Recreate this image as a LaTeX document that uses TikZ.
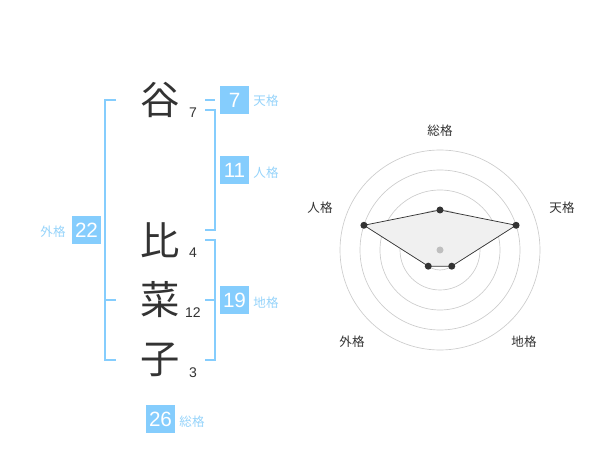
\documentclass[tikz,border=0pt]{standalone}
\usepackage{fontspec}
\setmainfont{Liberation Sans}
\newfontfamily\jpfont{Noto Sans CJK JP}
\usetikzlibrary{positioning,calc}
\definecolor{kakublue}{HTML}{85CDFD}
\definecolor{kakutext}{HTML}{95D3FA}
\definecolor{inkgray}{HTML}{333333}
\definecolor{ringgray}{HTML}{CCCCCC}

\begin{document}
\begin{tikzpicture}[x=0.75pt, y=-0.75pt,
  namechar/.style={font=\jpfont\fontsize{29.5}{29.5}\selectfont, text=inkgray, inner sep=0pt},
  strokenum/.style={font=\fontsize{10.5}{10.5}\selectfont, text=inkgray, inner sep=0pt},
  kakubox/.style={fill=kakublue, text=white, font=\fontsize{15.5}{15.5}\selectfont,
    minimum width=21.75pt, minimum height=21pt, inner sep=0pt},
  kakuname/.style={font=\jpfont\fontsize{9.4}{9.4}\selectfont, text=kakutext, inner sep=0pt},
  bracket/.style={draw=kakublue, line width=1.1pt},
  radarlabel/.style={font=\jpfont\fontsize{9.4}{9.4}\selectfont, text=inkgray, inner sep=0pt}]
\useasboundingbox (0,0) rectangle (600,470);
% x, y are pixels of the 600 x 470 frame, y runs downwards
% the name, one character per cell
\node[namechar] (c1) at (160,100) {谷};
\node[namechar] (c2) at (160,240) {比};
\node[namechar] (c3) at (160,300) {菜};
\node[namechar] (c4) at (160,360) {子};
\foreach \n/\y/\s in {1/113/7, 2/253/4, 3/313/12, 4/373/3} {
  \node[strokenum] (s\n) at (193,\y) {\s};
}
% left bracket, outer
\draw[bracket] (116,100) -- (105,100) -- (105,360) -- (116,360);
\draw[bracket] (105,300) -- (116,300);
% right brackets
\draw[bracket] (205,100) -- (215,100);
\draw[bracket] (205,110) -- (215,110) -- (215,230) -- (205,230);
\draw[bracket] (205,240) -- (215,240) -- (215,360) -- (205,360);
\draw[bracket] (205,300) -- (215,300);
% the five numbers
\node[kakubox] (ten) at (234.5,100) {7};
\node[kakuname] (tenl) at (266,101) {天格};
\node[kakubox] (jin) at (234.5,170) {11};
\node[kakuname] (jinl) at (266,173) {人格};
\node[kakubox] (gai) at (86.5,230) {22};
\node[kakuname] (gail) at (53,232) {外格};
\node[kakubox] (chi) at (234.5,300) {19};
\node[kakuname] (chil) at (266,303) {地格};
\node[kakubox] (sou) at (160.5,419) {26};
\node[kakuname] (soul) at (192,422) {総格};
% radar, centred at (440,250), rings every 20 px
\begin{scope}[shift={(440,250)}, yscale=-1]
  \foreach \r in {20,40,60,80,100} {
    \draw[ringgray, line width=0.5pt] (0,0) circle (\r);
  }
  \coordinate (psou) at (90:40);
  \coordinate (pten) at (18:80);
  \coordinate (pchi) at (-54:20);
  \coordinate (pgai) at (-126:20);
  \coordinate (pjin) at (162:80);
  \filldraw[fill=black!6, draw=inkgray, line width=0.55pt]
    (psou) -- (pten) -- (pchi) -- (pgai) -- (pjin) -- cycle;
  \foreach \p in {psou,pten,pchi,pgai,pjin} {
    \fill[inkgray] (\p) circle (3.5);
  }
  \fill[black!25] (0,0) circle (3.5);
  \node[radarlabel] (lsou) at (0,119) {総格};
  \node[radarlabel] (lten) at (122,42) {天格};
  \node[radarlabel] (lchi) at (84,-92) {地格};
  \node[radarlabel] (lgai) at (-88,-92) {外格};
  \node[radarlabel] (ljin) at (-120,42) {人格};
\end{scope}
\end{tikzpicture}
\end{document}
